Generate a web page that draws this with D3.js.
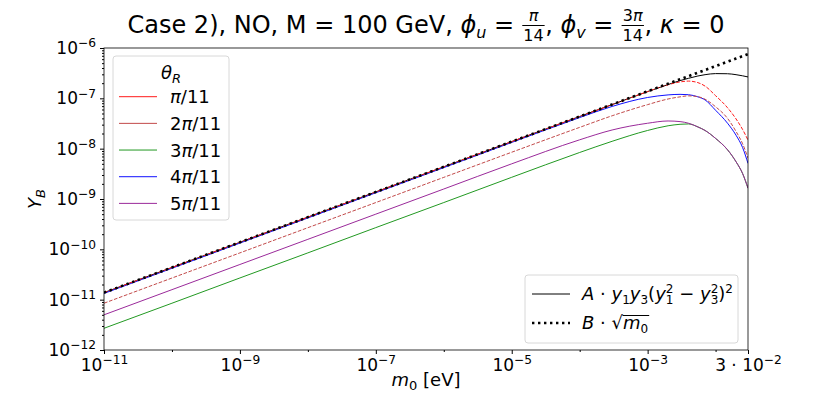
<!DOCTYPE html>
<meta charset="utf-8">
<style>
body { margin: 0; background: #fff; }
svg text { font-family: "DejaVu Sans", sans-serif; fill: #000; white-space: pre; }
.line { fill: none; }
.tick line { stroke: #000; }
</style>
<body>
<script src="https://d3js.org/d3.v7.min.js"></script>
<script>

// plot box inside the 831x394 window
var margin = {top: 48, right: 83, bottom: 44, left: 104},
    width = 831 - margin.left - margin.right,
    height = 394 - margin.top - margin.bottom;

// m0 sample points [eV]
var m0 = [1e-11, 1e-10, 1e-9, 1e-8, 1e-7, 1e-6, 1e-5, 1e-4, 3e-4, 1e-3, 2e-3, 3e-3,
          4e-3, 5.5e-3, 7e-3, 1e-2, 1.5e-2, 2e-2, 2.5e-2, 3e-2];

// Y_B for each theta_R
var yPi1 = [1.38e-11, 4.36e-11, 1.38e-10, 4.36e-10, 1.38e-9, 4.36e-9, 1.38e-8, 4.36e-8, 7.5e-8, 1.36e-7, 1.86e-7, 2.12e-7,
            2.2e-7, 2.05e-7, 1.75e-7, 1.13e-7, 6.5e-8, 3.9e-8, 2.4e-8, 1.48e-8];
var yPi2 = [8.5e-12, 2.69e-11, 8.5e-11, 2.69e-10, 8.5e-10, 2.69e-9, 8.5e-9, 2.65e-8, 4.5e-8, 7.5e-8, 9.7e-8, 1.07e-7,
            1.12e-7, 1.08e-7, 9.6e-8, 6.8e-8, 4.0e-8, 2.2e-8, 1.25e-8, 6.5e-9];
var yPi3 = [2.7e-12, 8.5e-12, 2.7e-11, 8.5e-11, 2.7e-10, 8.5e-10, 2.7e-9, 8.4e-9, 1.4e-8, 2.3e-8, 2.85e-8, 3.05e-8,
            3.1e-8, 2.7e-8, 2.3e-8, 1.6e-8, 9.5e-9, 5.5e-9, 3.2e-9, 1.64e-9];
var yPi4 = [1.33e-11, 4.2e-11, 1.33e-10, 4.2e-10, 1.33e-9, 4.2e-9, 1.33e-8, 4.15e-8, 6.9e-8, 1.04e-7, 1.17e-7, 1.2e-7,
            1.18e-7, 1.07e-7, 9.3e-8, 5.8e-8, 3.2e-8, 1.85e-8, 1.05e-8, 5.1e-9];
var yPi5 = [5.0e-12, 1.58e-11, 5.0e-11, 1.58e-10, 5.0e-10, 1.58e-9, 5.0e-9, 1.5e-8, 2.35e-8, 3.2e-8, 3.55e-8, 3.45e-8,
            3.2e-8, 2.7e-8, 2.3e-8, 1.6e-8, 9.5e-9, 5.5e-9, 3.2e-9, 1.64e-9];
// A*y1*y3*(y1^2-y3^2)^2 and B*sqrt(m0)
var yA = [1.38e-11, 4.36e-11, 1.38e-10, 4.36e-10, 1.38e-9, 4.36e-9, 1.38e-8, 4.36e-8, 7.5e-8, 1.36e-7, 1.88e-7, 2.25e-7,
          2.5e-7, 2.78e-7, 2.95e-7, 3.1e-7, 3.08e-7, 2.95e-7, 2.8e-7, 2.66e-7];
var yB = [1.38e-11, 4.36e-11, 1.38e-10, 4.36e-10, 1.38e-9, 4.36e-9, 1.38e-8, 4.36e-8, 7.56e-8, 1.38e-7, 1.95e-7, 2.39e-7,
          2.76e-7, 3.24e-7, 3.65e-7, 4.36e-7, 5.34e-7, 6.17e-7, 6.9e-7, 7.56e-7];

var thetaLabels = ["π/11", "2π/11", "3π/11", "4π/11", "5π/11"];
var thetaColors = ["#ff1a1a", "#c24a4a", "#229922", "#1010ff", "#9a2a9a"];

var xTicks = [1e-11, 1e-9, 1e-7, 1e-5, 1e-3, 3e-2];
var xTickLabels = [["10", "−11"], ["10", "−9"], ["10", "−7"], ["10", "−5"], ["10", "−3"], ["3 · 10", "−2"]];
var yTicks = [1e-12, 1e-11, 1e-10, 1e-9, 1e-8, 1e-7, 1e-6];
var yTickExps = ["−12", "−11", "−10", "−9", "−8", "−7", "−6"];

var root = d3.select("body").append("svg")
    .attr("width", 831)
    .attr("height", 394);

var svg = root.append("g")
    .attr("transform", "translate(" + margin.left + "," + margin.top + ")");

var x = d3.scaleLog().domain([1e-11, 3e-2]).range([0, width]);
var y = d3.scaleLog().domain([1e-12, 1e-6]).range([height, 0]);

svg.append("clipPath").attr("id", "clip")
  .append("rect").attr("width", width).attr("height", height);

var plot = svg.append("g").attr("clip-path", "url(#clip)");

function lineOf(vals) {
  return d3.line()
    .x(function(d, i) { return x(m0[i]); })
    .y(function(d) { return y(d); })
    .curve(d3.curveMonotoneX)(vals);
}

// draw order as in the original
var series = [
  {v: yA, color: "#000", dash: null, w: 1},
  {v: yPi4, color: thetaColors[3], dash: null, w: 1},
  {v: yPi3, color: thetaColors[2], dash: null, w: 1},
  {v: yPi5, color: thetaColors[4], dash: null, w: 1},
  {v: yPi2, color: thetaColors[1], dash: "3.7,1.6", w: 1},
  {v: yPi1, color: thetaColors[0], dash: "3.7,1.6", w: 1},
  {v: yB, color: "#000", dash: "2.4,3.6", w: 2.6}
];
series.forEach(function(s) {
  plot.append("path")
    .attr("class", "line")
    .attr("d", lineOf(s.v))
    .style("stroke", s.color)
    .style("stroke-width", s.w)
    .style("stroke-dasharray", s.dash);
});

// label helper: "10" plus superscript
function powLabel(sel, base, exp) {
  sel.text(null);
  sel.append("tspan").text(base);
  sel.append("tspan").text(exp).attr("dy", "-0.55em").style("font-size", "0.72em");
}

// x axis
var xAxis = svg.append("g")
    .attr("transform", "translate(0," + height + ")")
    .call(d3.axisBottom(x).tickValues(xTicks).tickSize(4).tickPadding(5));
xAxis.select(".domain").remove();
xAxis.selectAll("text").style("font-size", "17px")
  .each(function(d, i) { powLabel(d3.select(this), xTickLabels[i][0], xTickLabels[i][1]); });

var xMinor = svg.append("g")
    .attr("transform", "translate(0," + height + ")")
    .call(d3.axisBottom(x).tickValues([1e-10, 1e-8, 1e-6, 1e-4, 1e-2]).tickSize(2).tickFormat(""));
xMinor.select(".domain").remove();

// y axis
var yAxis = svg.append("g")
    .call(d3.axisLeft(y).tickValues(yTicks).tickSize(4).tickPadding(4));
yAxis.select(".domain").remove();
yAxis.selectAll("text").style("font-size", "17px")
  .each(function(d, i) { powLabel(d3.select(this), "10", yTickExps[i]); });

var yMinorVals = [];
for (var e = -12; e < -6; e++) {
  for (var k = 2; k < 10; k++) yMinorVals.push(k * Math.pow(10, e));
}
var yMinor = svg.append("g")
    .call(d3.axisLeft(y).tickValues(yMinorVals).tickSize(2).tickFormat(""));
yMinor.select(".domain").remove();

// frame
svg.append("rect")
    .attr("width", width).attr("height", height)
    .style("fill", "none").style("stroke", "#000").style("stroke-width", 0.8);

// rich text helper: parts with baseline offsets
function rich(text, parts) {
  var cur = 0;
  parts.forEach(function(p) {
    var off = p.off || 0;
    var ts = text.append("tspan").text(p.t);
    if (off !== cur) ts.attr("dy", off - cur);
    cur = off;
    if (p.it) ts.style("font-style", "italic");
    if (p.fs) ts.style("font-size", p.fs + "px");
    if (p.dx) ts.attr("dx", p.dx);
  });
}

// axis labels
var xl = root.append("text")
    .attr("x", margin.left + width / 2).attr("y", 386)
    .attr("text-anchor", "middle").style("font-size", "18px");
rich(xl, [{t: "m", it: true}, {t: "0", fs: 13, off: 4}, {t: " [eV]", off: 0}]);

var yl = root.append("text")
    .attr("transform", "translate(41," + (margin.top + height / 2) + ") rotate(-90)")
    .attr("text-anchor", "middle").style("font-size", "18px");
rich(yl, [{t: "Y", it: true}, {t: "B", it: true, fs: 13, off: 4}]);

// title, laid out piece by piece (fractions stacked)
var titlePieces = [
  {t: "Case 2), NO, M = 100 GeV, "},
  {t: "ϕ", it: true}, {t: "u", it: true, sub: true}, {t: " = "},
  {frac: ["π", "14"]}, {t: ", "},
  {t: "ϕ", it: true}, {t: "v", it: true, sub: true}, {t: " = "},
  {frac: ["3π", "14"]}, {t: ", "},
  {t: "κ", it: true}, {t: " = 0"}
];
var tg = root.append("g");
var tBase = 33, tSize = 24, cx = 0;
titlePieces.forEach(function(p) {
  if (p.frac) {
    var num = tg.append("text").attr("y", tBase - 12).style("font-size", "16px");
    var parts = p.frac[0].split("π");
    rich(num, [{t: parts[0]}, {t: "π", it: true}]);
    var den = tg.append("text").text(p.frac[1]).attr("y", tBase + 8).style("font-size", "16px");
    var w = Math.max(num.node().getComputedTextLength(), den.node().getComputedTextLength()) + 3;
    num.attr("x", cx + w / 2).attr("text-anchor", "middle");
    den.attr("x", cx + w / 2).attr("text-anchor", "middle");
    tg.append("line").attr("x1", cx + 0.5).attr("x2", cx + w - 0.5)
      .attr("y1", tBase - 7.5).attr("y2", tBase - 7.5)
      .style("stroke", "#000").style("stroke-width", 1);
    cx += w;
  } else {
    var t = tg.append("text").text(p.t).attr("x", cx)
      .attr("y", p.sub ? tBase + 5 : tBase)
      .style("font-size", (p.sub ? 16 : tSize) + "px");
    if (p.it) t.style("font-style", "italic");
    cx += t.node().getComputedTextLength();
  }
});
tg.attr("transform", "translate(" + (margin.left + width / 2 - cx / 2) + ",0)");

// legend for theta_R
var lg = root.append("g").attr("transform", "translate(113,56)");
lg.append("rect").attr("width", 116).attr("height", 164).attr("rx", 3)
  .style("fill", "#fff").style("fill-opacity", 0.8)
  .style("stroke", "#d8d8d8").style("stroke-width", 1);
var lt = lg.append("text").attr("x", 58).attr("y", 23).attr("text-anchor", "middle").style("font-size", "18px");
rich(lt, [{t: "θ", it: true}, {t: "R", it: true, fs: 13, off: 4}]);
thetaLabels.forEach(function(lab, i) {
  var yy = 40.7 + i * 26.67;
  lg.append("line").attr("x1", 6).attr("x2", 44).attr("y1", yy).attr("y2", yy)
    .style("stroke", thetaColors[i]).style("stroke-width", 1);
  var tx = lg.append("text").attr("x", 57).attr("y", yy + 6.5).style("font-size", "18px");
  var n = lab.split("π");
  rich(tx, [{t: n[0]}, {t: "π", it: true}, {t: n[1]}]);
});

// legend for the fits
var lg2 = root.append("g").attr("transform", "translate(525,275)");
lg2.append("rect").attr("width", 213).attr("height", 68).attr("rx", 3)
  .style("fill", "#fff").style("fill-opacity", 0.8)
  .style("stroke", "#d8d8d8").style("stroke-width", 1);
lg2.append("line").attr("x1", 7).attr("x2", 45).attr("y1", 19).attr("y2", 19)
  .style("stroke", "#000").style("stroke-width", 1);
lg2.append("line").attr("x1", 7).attr("x2", 45).attr("y1", 48).attr("y2", 48)
  .style("stroke", "#000").style("stroke-width", 2.6).style("stroke-dasharray", "2.4,3.6");
var f1 = lg2.append("text").attr("x", 57).attr("y", 25).style("font-size", "18px");
rich(f1, [
  {t: "A", it: true}, {t: " · "}, {t: "y", it: true}, {t: "1", fs: 12, off: 4},
  {t: "y", it: true}, {t: "3", fs: 12, off: 4}, {t: "("},
  {t: "y", it: true}, {t: "1", fs: 12, off: 4}, {t: "2", fs: 12, off: -7, dx: -7.6},
  {t: " − "}, {t: "y", it: true}, {t: "3", fs: 12, off: 4}, {t: "2", fs: 12, off: -7, dx: -7.6},
  {t: ")"}, {t: "2", fs: 12, off: -7}
]);
var f2 = lg2.append("text").attr("x", 57).attr("y", 54).style("font-size", "18px");
rich(f2, [{t: "B", it: true}, {t: " · √"}, {t: "m", it: true}, {t: "0", fs: 12, off: 4}]);
// overline of the square root, from the radical to the end of m0
var f2n = f2.node();
var sx = f2n.getEndPositionOfChar(4).x, ex = f2n.getEndPositionOfChar(6).x;
lg2.append("line").attr("x1", sx - 0.5).attr("x2", ex + 1).attr("y1", 40.5).attr("y2", 40.5)
  .style("stroke", "#000").style("stroke-width", 1);

</script>
</body>
